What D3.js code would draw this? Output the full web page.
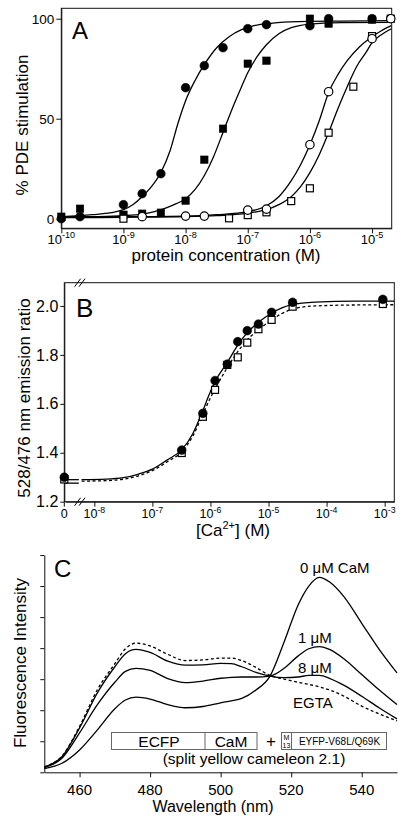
<!DOCTYPE html>
<html><head><meta charset="utf-8">
<script src="https://cdn.jsdelivr.net/npm/d3@7"></script>
<style>
body{margin:0;background:#fff}
svg{display:block}
text{font-family:"Liberation Sans",Arial,Helvetica,sans-serif;fill:#000}
</style>
</head><body>
<svg id="chart" width="411" height="829"></svg>
<script>
// ---------------- Panel A data ----------------
const aTickExp = [-10, -9, -8, -7, -6, -5];
const aYTicks = [0, 50, 100];
const aFilledCircX = [1e-10, 2e-10, 1e-9, 2e-9, 4e-9, 1e-8, 2e-8, 4e-8, 1e-7, 2e-7, 1e-6, 2e-6, 1e-5];
const aFilledCircY = [0, 1, 7, 12.5, 22.5, 65.5, 76.5, 85.5, 95, 97, 96.5, 100, 100];
const aFilledSqX = [1e-10, 2e-10, 1e-9, 2e-9, 4e-9, 1e-8, 2e-8, 4e-8, 1e-7, 2e-7, 1e-6, 2e-6, 1e-5];
const aFilledSqY = [1, 5, 2, 2.5, 3, 9, 29.5, 45, 77.5, 79, 100, 97.5, 99.5];
const aOpenCircX = [2e-9, 1e-8, 2e-8, 1e-7, 2e-7, 1e-6, 2e-6, 1e-5, 2e-5];
const aOpenCircY = [1, 1.3, 1.3, 4.3, 4.8, 37, 63.5, 90, 100];
const aOpenSqX = [1e-9, 5e-8, 1e-7, 2e-7, 5e-7, 1e-6, 2e-6, 5e-6, 1e-5, 2e-5];
const aOpenSqY = [0, 0.2, 1.8, 3.2, 8.8, 15.2, 43, 66, 91.3, 100];
// fitted curves (log10 M, %)
const aFitFCLog = [-10, -9.5, -9.2, -9, -8.85, -8.7, -8.55, -8.4, -8.25, -8.12, -8, -7.85, -7.7, -7.5, -7.3, -7.1, -6.9, -6.6, -6.2, -5.5, -4.69];
const aFitFCY   = [1, 2, 3, 4.5, 7, 11, 16, 23, 34, 48, 59, 69, 77, 85.5, 91, 94.5, 96.5, 97.8, 98.5, 98.8, 99];
const aFitFSLog = [-10, -9.5, -9, -8.7, -8.5, -8.3, -8.15, -8, -7.85, -7.7, -7.55, -7.4, -7.25, -7.1, -7, -6.85, -6.7, -6.5, -6.3, -6, -5.5, -4.69];
const aFitFSY   = [0.8, 1, 1.5, 2.3, 3.5, 5.5, 7.5, 10, 14.5, 21.5, 31, 43, 55, 66, 73, 81, 87, 92.5, 95.5, 97.3, 98, 98.2];
const aFitOCLog = [-10, -9, -8, -7.5, -7, -6.7, -6.5, -6.3, -6.15, -6, -5.85, -5.7, -5.55, -5.4, -5.2, -5, -4.85, -4.69];
const aFitOCY   = [1, 1, 1.3, 2, 3.5, 6.5, 11, 19, 27, 37, 49, 63, 72, 79, 86, 91, 94, 96.5];
const aFitOSLog = [-10, -9, -8, -7.5, -7, -6.7, -6.5, -6.3, -6.15, -6, -5.85, -5.7, -5.55, -5.4, -5.25, -5.1, -5, -4.85, -4.69];
const aFitOSY   = [0.5, 0.7, 1, 1.5, 2.8, 4.5, 7, 11, 16, 23, 32, 43, 55, 66, 76, 83, 88, 92, 95];

// ---------------- Panel B data ----------------
const bTickExp = [-8, -7, -6, -5, -4, -3];
const bYTicks = [1.2, 1.4, 1.6, 1.8, 2.0];
const bCa = [0, 3.2e-7, 7.4e-7, 1.2e-6, 1.95e-6, 2.95e-6, 4.3e-6, 6.7e-6, 1.13e-5, 2.6e-5, 9.3e-4];
const bFilled = [1.30, 1.411, 1.561, 1.695, 1.762, 1.854, 1.899, 1.926, 1.974, 2.015, 2.027];
const bOpen   = [1.291, 1.399, 1.547, 1.657, 1.759, 1.790, 1.850, 1.905, 1.943, 1.997, 2.008];
const bFitLog    = [-8.22, -7.8, -7.5, -7.25, -7.0, -6.75, -6.5, -6.3, -6.15, -6.0, -5.9, -5.7, -5.53, -5.37, -5.19, -4.95, -4.6, -4.2, -3.5, -2.834];
const bFitSolid  = [1.290, 1.292, 1.298, 1.312, 1.333, 1.370, 1.411, 1.48, 1.561, 1.65, 1.70, 1.773, 1.84, 1.89, 1.93, 1.97, 2.005, 2.016, 2.02, 2.02];
const bFitDashed = [1.284, 1.286, 1.292, 1.305, 1.327, 1.362, 1.404, 1.47, 1.547, 1.625, 1.67, 1.752, 1.813, 1.861, 1.899, 1.943, 1.986, 2.0, 2.004, 2.005];

// ---------------- Panel C data ----------------
const cTicks = [460, 480, 500, 520, 540];
const cWave = [450, 455, 460, 465, 470, 473, 476, 480, 485, 490, 495, 500, 503, 506, 510, 514, 518, 522, 525, 528, 531, 535, 540, 545, 550];
const c0uM  = [0.12, 0.29, 0.72, 1.36, 2.05, 2.33, 2.42, 2.36, 2.18, 2.08, 2.12, 2.24, 2.30, 2.38, 2.65, 3.10, 4.20, 5.40, 6.00, 6.28, 6.12, 5.65, 4.80, 3.95, 3.20];
const c1uM  = [0.15, 0.45, 1.27, 2.17, 2.90, 3.25, 3.35, 3.28, 3.02, 2.89, 2.94, 3.03, 3.06, 3.07, 3.07, 3.10, 3.35, 3.75, 3.98, 4.05, 3.95, 3.65, 3.15, 2.65, 2.18];
const c8uM  = [0.17, 0.50, 1.43, 2.55, 3.40, 3.82, 3.96, 3.86, 3.58, 3.45, 3.46, 3.51, 3.50, 3.40, 3.22, 3.10, 3.05, 3.07, 3.12, 3.12, 3.02, 2.80, 2.45, 2.07, 1.72];
const cEGTA = [0.18, 0.52, 1.48, 2.65, 3.50, 3.98, 4.16, 4.07, 3.80, 3.60, 3.62, 3.68, 3.68, 3.60, 3.38, 3.12, 3.00, 2.90, 2.83, 2.75, 2.65, 2.45, 2.13, 1.88, 1.66];
const cLabels = ["0 \u03bcM CaM", "1 \u03bcM", "8 \u03bcM", "EGTA"];

// ---------------- drawing helpers ----------------
const svg = d3.select("#chart");
const FONT = '"Liberation Sans",Arial,Helvetica,sans-serif';
function styleAxis(g, fs) {
  g.attr("font-family", FONT).attr("font-size", fs);
  g.selectAll("path,line").attr("stroke", "#111").attr("stroke-width", 1);
  g.selectAll("text").attr("fill", "#000");
}
function circles(g, xs, ys, xf, yf, filled, r) {
  g.selectAll(null).data(xs.map((x, i) => [x, ys[i]])).join("circle")
    .attr("cx", d => xf(d[0])).attr("cy", d => yf(d[1])).attr("r", r)
    .attr("fill", filled ? "#000" : "#fff").attr("stroke", "#000").attr("stroke-width", filled ? 0.5 : 1.2);
}
function squares(g, xs, ys, xf, yf, filled, s) {
  g.selectAll(null).data(xs.map((x, i) => [x, ys[i]])).join("rect")
    .attr("x", d => xf(d[0]) - s / 2).attr("y", d => yf(d[1]) - s / 2).attr("width", s).attr("height", s)
    .attr("fill", filled ? "#000" : "#fff").attr("stroke", "#000").attr("stroke-width", filled ? 0.5 : 1.2);
}
function curve(g, xs, ys, xf, yf, dash) {
  const line = d3.line().x(d => xf(d[0])).y(d => yf(d[1])).curve(d3.curveMonotoneX);
  g.append("path").attr("d", line(xs.map((x, i) => [x, ys[i]])))
    .attr("fill", "none").attr("stroke", "#000").attr("stroke-width", 1.3)
    .attr("stroke-dasharray", dash ? "3,2.5" : null);
}
function powLabel(g, x, y, fs, exp) {
  const t = g.append("text").attr("x", x).attr("y", y).attr("text-anchor", "middle").attr("font-size", fs);
  t.append("tspan").text("10");
  t.append("tspan").attr("dy", -fs * 0.42).attr("font-size", fs * 0.7).text(exp);
}
function slashes(g, x, y) {
  [-2.2, 2.2].forEach(o => g.append("line")
    .attr("x1", x + o - 3).attr("y1", y + 4).attr("x2", x + o + 3).attr("y2", y - 4)
    .attr("stroke", "#000").attr("stroke-width", 1));
}

// ================= Panel A =================
{
  const P = {l: 61.3, r: 391.7, t: 8.3, b: 228.3};
  const g = svg.append("g");
  const x = d3.scaleLog().domain([1e-10, 2.07e-5]).range([P.l, P.r]);
  const y = d3.scaleLinear().domain([-4.8, 105.2]).range([P.b, P.t]);
  const xl = v => x(Math.pow(10, v));

  g.append("rect").attr("x", P.l).attr("y", P.t).attr("width", P.r - P.l).attr("height", P.b - P.t)
    .attr("fill", "none").attr("stroke", "#111").attr("stroke-width", 1);
  const gx = g.append("g").attr("transform", `translate(0,${P.b})`)
    .call(d3.axisBottom(x).tickValues(aTickExp.map(e => Math.pow(10, e))).tickSize(5).tickSizeOuter(0).tickFormat(""));
  styleAxis(gx, 13);
  aTickExp.forEach(e => powLabel(g, xl(e), 243.5, 13, e));
  const gy = g.append("g").attr("transform", `translate(${P.l},0)`)
    .call(d3.axisLeft(y).tickValues(aYTicks).tickSize(5).tickSizeOuter(0).tickPadding(2).tickFormat(d3.format("d")));
  styleAxis(gy, 13.5);

  curve(g, aFitFCLog, aFitFCY, xl, y);
  curve(g, aFitFSLog, aFitFSY, xl, y);
  curve(g, aFitOCLog, aFitOCY, xl, y);
  curve(g, aFitOSLog, aFitOSY, xl, y);
  squares(g, aFilledSqX, aFilledSqY, x, y, true, 7.5);
  circles(g, aFilledCircX, aFilledCircY, x, y, true, 4.4);
  squares(g, aOpenSqX, aOpenSqY, x, y, false, 7);
  circles(g, aOpenCircX, aOpenCircY, x, y, false, 4.2);

  g.append("text").attr("x", 226).attr("y", 261).attr("text-anchor", "middle").attr("font-size", 17)
    .text("protein concentration (M)");
  g.append("text").attr("transform", "translate(28,125) rotate(-90)").attr("text-anchor", "middle").attr("font-size", 17)
    .text("% PDE stimulation");
  g.append("text").attr("x", 72).attr("y", 38.5).attr("font-size", 24).text("A");
}

// ================= Panel B =================
{
  const P = {l: 64.3, r: 394.3, t: 282.7, b: 501.7};
  const g = svg.append("g");
  const xlog = d3.scaleLog().domain([Math.pow(10, -8.5), Math.pow(10, -2.834)]).range([65.3, P.r]);
  const x = v => v === 0 ? P.l : xlog(v);
  const xl = v => xlog(Math.pow(10, v));
  const y = d3.scaleLinear().domain([1.2, 2.095]).range([P.b, P.t]);
  const breakX = xl(-8.25);

  g.append("rect").attr("x", P.l).attr("y", P.t).attr("width", P.r - P.l).attr("height", P.b - P.t)
    .attr("fill", "none").attr("stroke", "#111").attr("stroke-width", 1);
  const gx = g.append("g").attr("transform", `translate(0,${P.b})`)
    .call(d3.axisBottom(xlog).tickValues(bTickExp.map(e => Math.pow(10, e))).tickSize(5).tickSizeOuter(0).tickFormat(""));
  styleAxis(gx, 12.5);
  g.append("line").attr("x1", P.l).attr("x2", P.l).attr("y1", P.b).attr("y2", P.b + 5).attr("stroke", "#111");
  g.append("text").attr("x", P.l).attr("y", 518).attr("text-anchor", "middle").attr("font-size", 12.5).text("0");
  bTickExp.forEach(e => powLabel(g, xl(e), 518, 12.5, e));
  const gy = g.append("g").attr("transform", `translate(${P.l},0)`)
    .call(d3.axisLeft(y).tickValues(bYTicks).tickSize(4).tickSizeOuter(0).tickPadding(2).tickFormat(d3.format(".1f")));
  styleAxis(gy, 16);

  slashes(g, breakX, P.b);
  slashes(g, breakX, P.t);

  // zero segment before the axis break
  g.append("line").attr("x1", P.l).attr("x2", breakX - 1).attr("y1", y(bFitSolid[0])).attr("y2", y(bFitSolid[0]))
    .attr("stroke", "#000").attr("stroke-width", 1.3);
  g.append("line").attr("x1", P.l).attr("x2", breakX - 1).attr("y1", y(bFitDashed[0]) + 2).attr("y2", y(bFitDashed[0]) + 2)
    .attr("stroke", "#000").attr("stroke-width", 1.3);
  curve(g, bFitLog, bFitSolid, xl, y, false);
  curve(g, bFitLog, bFitDashed, xl, y, true);
  squares(g, bCa, bOpen, x, y, false, 7);
  circles(g, bCa, bFilled, x, y, true, 4.4);

  const t = g.append("text").attr("x", 233).attr("y", 536).attr("text-anchor", "middle").attr("font-size", 17);
  t.append("tspan").text("[Ca");
  t.append("tspan").attr("dy", -7).attr("font-size", 11).text("2+");
  t.append("tspan").attr("dy", 7).text("] (M)");
  g.append("text").attr("transform", "translate(30,398) rotate(-90)").attr("text-anchor", "middle").attr("font-size", 17)
    .text("528/476 nm emission ratio");
  g.append("text").attr("x", 76).attr("y", 317).attr("font-size", 26).text("B");
}

// ================= Panel C =================
{
  const P = {l: 44.3, r: 397, t: 555, b: 772.3};
  const g = svg.append("g");
  const x = d3.scaleLinear().domain([450, 550]).range([P.l, P.r]);
  const y = d3.scaleLinear().domain([0, 7]).range([P.b, P.t]);

  const gx = g.append("g").attr("transform", `translate(0,${P.b})`)
    .call(d3.axisBottom(x).tickValues(cTicks).tickSize(5).tickSizeOuter(0).tickFormat(""));
  styleAxis(gx, 15);
  cTicks.forEach(v => g.append("text").attr("x", x(v)).attr("y", 795).attr("text-anchor", "middle").attr("font-size", 15).text(v));
  const gy = g.append("g").attr("transform", `translate(${P.l},0)`)
    .call(d3.axisLeft(y).tickValues(d3.range(0, 8)).tickSize(4).tickSizeOuter(0).tickFormat(""));
  styleAxis(gy, 12);

  curve(g, cWave, c0uM, x, y, false);
  curve(g, cWave, c1uM, x, y, false);
  curve(g, cWave, c8uM, x, y, false);
  curve(g, cWave, cEGTA, x, y, true);

  const labelPos = [[300, 573], [298, 643], [298, 673], [293, 708]];
  cLabels.forEach((s, i) => g.append("text").attr("x", labelPos[i][0]).attr("y", labelPos[i][1]).attr("font-size", 15).text(s));

  // construct diagram
  const boxStroke = "#666";
  g.append("rect").attr("x", 111.5).attr("y", 732.5).attr("width", 145.5).attr("height", 17)
    .attr("fill", "#fff").attr("stroke", boxStroke).attr("stroke-width", 1);
  g.append("line").attr("x1", 205).attr("x2", 205).attr("y1", 732.5).attr("y2", 749.5).attr("stroke", boxStroke);
  g.append("text").attr("x", 159).attr("y", 747).attr("text-anchor", "middle").attr("font-size", 15.5).text("ECFP");
  g.append("text").attr("x", 231).attr("y", 747).attr("text-anchor", "middle").attr("font-size", 15.5).text("CaM");
  g.append("text").attr("x", 271).attr("y", 747).attr("text-anchor", "middle").attr("font-size", 17).text("+");
  g.append("rect").attr("x", 281.5).attr("y", 732.5).attr("width", 105).attr("height", 17)
    .attr("fill", "#fff").attr("stroke", boxStroke).attr("stroke-width", 1);
  g.append("line").attr("x1", 291.5).attr("x2", 291.5).attr("y1", 732.5).attr("y2", 749.5).attr("stroke", boxStroke);
  g.append("text").attr("x", 286.5).attr("y", 740).attr("text-anchor", "middle").attr("font-size", 7).text("M");
  g.append("text").attr("x", 286.5).attr("y", 747.5).attr("text-anchor", "middle").attr("font-size", 7).text("13");
  g.append("text").attr("x", 339.5).attr("y", 745).attr("text-anchor", "middle").attr("font-size", 10).text("EYFP-V68L/Q69K");
  g.append("text").attr("x", 254).attr("y", 764).attr("text-anchor", "middle").attr("font-size", 15.5).text("(split yellow cameleon 2.1)");

  g.append("text").attr("x", 213).attr("y", 812).attr("text-anchor", "middle").attr("font-size", 16).text("Wavelength (nm)");
  g.append("text").attr("transform", "translate(25.5,663) rotate(-90)").attr("text-anchor", "middle").attr("font-size", 17)
    .text("Fluorescence Intensity");
  g.append("text").attr("x", 54).attr("y", 577).attr("font-size", 24).text("C");
}
</script>
</body></html>
